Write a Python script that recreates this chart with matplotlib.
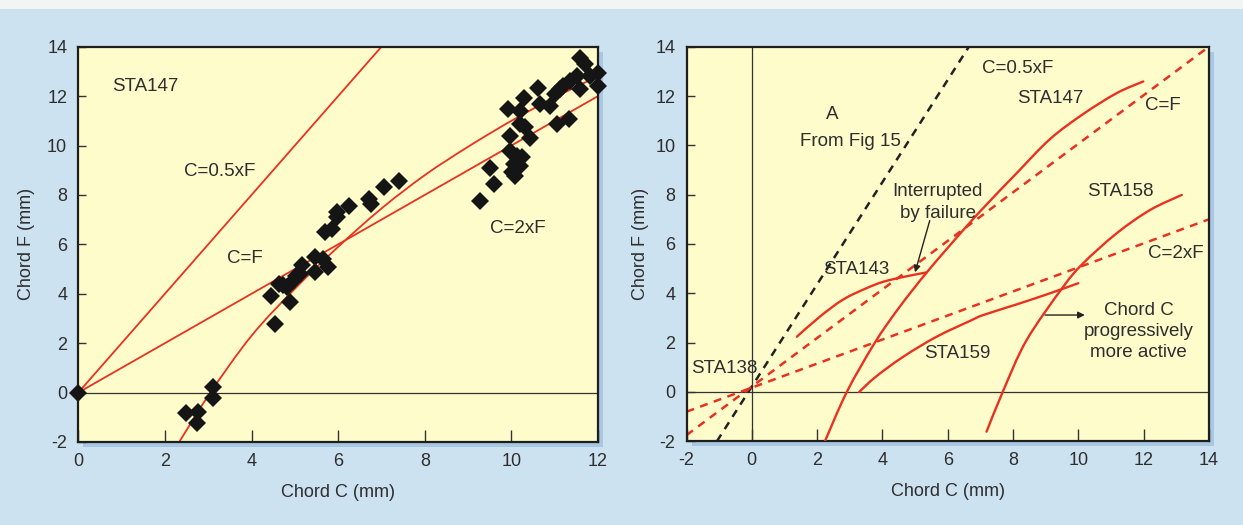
import matplotlib
matplotlib.use("Agg")
import matplotlib.pyplot as plt
from matplotlib.patches import Rectangle, PathPatch
from matplotlib.path import Path

plt.rcParams['font.family'] = ['Liberation Sans', 'DejaVu Sans']
plt.rcParams['axes.unicode_minus'] = False

# ---------------- data: left panel (STA147 measurements) ----------------
pts_c = [0.0, 2.49, 2.77, 2.73, 3.12, 3.10,
         4.54, 4.44, 4.64, 4.89, 4.81, 4.97, 5.16, 5.12, 5.47, 5.47, 5.66, 5.77,
         5.70, 5.85, 5.97, 5.97, 6.26, 6.72, 6.75, 7.07, 7.41, 4.72, 5.03,
         11.59, 11.70, 11.51, 11.36, 11.82, 12.0, 12.0, 11.59, 11.2, 11.12, 11.01,
         10.62, 10.28, 10.66, 10.89, 9.93, 10.2, 11.32, 11.05, 10.2, 10.32, 10.43,
         9.97, 9.97, 10.12, 10.24, 10.05, 10.2, 10.01, 10.09, 9.51, 9.6, 9.28]
pts_f = [0.0, -0.83, -0.77, -1.24, 0.24, -0.2,
         2.77, 3.91, 4.41, 3.67, 4.27, 4.54, 5.15, 4.81, 4.88, 5.48, 5.42, 5.08,
         6.52, 6.62, 7.30, 7.10, 7.54, 7.83, 7.63, 8.31, 8.57, 4.35, 4.70,
         13.55, 13.28, 12.81, 12.60, 12.80, 12.94, 12.40, 12.27, 12.40, 12.27, 12.07,
         12.34, 11.94, 11.67, 11.60, 11.46, 11.40, 11.06, 10.86, 10.86, 10.73, 10.32,
         10.39, 9.78, 9.58, 9.52, 9.25, 9.18, 8.91, 8.77, 9.11, 8.44, 7.77]

left_half_c = [0.0, 7.0]          # C = 0.5 x F
left_half_f = [0.0, 14.0]
left_eq_c = [0.0, 12.0]           # C = F
left_eq_f = [0.0, 12.0]
fit_c = [2.33, 3.05, 4.0, 5.0, 6.0, 7.0, 8.0, 9.0, 10.0, 11.0, 12.0]
fit_f = [-2.0, 0.0, 2.3, 4.2, 5.9, 7.45, 8.8, 9.95, 11.0, 11.95, 12.8]

# ---------------- data: right panel ----------------
half_c = [-1.07, 6.65]             # C = 0.5 x F (black dashed)
half_f = [-2.0, 14.0]
eq_c = [-2.0, 14.0]                # C = F (red dashed)
eq_f = [-1.75, 14.0]
dbl_c = [-2.0, 14.0]               # C = 2 x F (red dashed)
dbl_f = [-0.8, 7.0]

sta143_c = [1.38, 2.09, 2.8, 3.5, 4.03, 4.7, 5.36]
sta143_f = [2.24, 3.06, 3.75, 4.2, 4.47, 4.68, 4.85]
sta147_c = [2.24, 2.91, 3.77, 4.5, 5.36, 6.48, 7.19, 8.11, 9.13, 10.15, 11.18, 11.99]
sta147_f = [-2.0, 0.0, 2.0, 3.4, 4.85, 6.57, 7.6, 8.87, 10.25, 11.27, 12.12, 12.59]
sta159_c = [3.29, 3.8, 4.64, 5.66, 6.68, 7.09, 8.11, 9.13, 10.0]
sta159_f = [0.0, 0.62, 1.43, 2.24, 2.88, 3.12, 3.55, 4.0, 4.41]
sta158_c = [7.19, 7.71, 8.42, 9.54, 10.15, 11.18, 12.2, 13.17]
sta158_f = [-1.61, 0.08, 2.11, 4.27, 5.22, 6.44, 7.38, 7.99]

left_xticks = [0, 2, 4, 6, 8, 10, 12]
right_xticks = [-2, 0, 2, 4, 6, 8, 10, 12, 14]
yticks = [-2, 0, 2, 4, 6, 8, 10, 12, 14]

# ---------------- styling ----------------
BG = '#cde2f1'
FACE = '#fffccc'
RED = '#e8321f'
TXT = '#2e2e2e'
W, H = 1243, 525


def smooth_curve(ax, xs, ys, **kw):
    """Draw a smooth (Catmull-Rom style Bezier) curve through the given points."""
    P = list(zip(xs, ys))
    n = len(P)
    verts = [P[0]]
    codes = [Path.MOVETO]
    for i in range(n - 1):
        p0 = P[i - 1] if i > 0 else P[i]
        p1, p2 = P[i], P[i + 1]
        p3 = P[i + 2] if i + 2 < n else P[i + 1]
        c1 = (p1[0] + (p2[0] - p0[0]) / 6, p1[1] + (p2[1] - p0[1]) / 6)
        c2 = (p2[0] - (p3[0] - p1[0]) / 6, p2[1] - (p3[1] - p1[1]) / 6)
        verts += [c1, c2, p2]
        codes += [Path.CURVE4] * 3
    ax.add_patch(PathPatch(Path(verts, codes), fill=False, capstyle='round', **kw))


fig = plt.figure(figsize=(W / 100, H / 100), dpi=100)
fig.patch.set_facecolor(BG)
fig.patches.append(Rectangle((0, 1 - 9 / H), 1, 9 / H, transform=fig.transFigure,
                             facecolor='#f3f4f4', edgecolor='none', zorder=-5))


def px_axes(x0, x1, y0, y1):
    return [x0 / W, 1 - y1 / H, (x1 - x0) / W, (y1 - y0) / H]


posL = px_axes(78.3, 598.0, 46.7, 442.0)
posR = px_axes(686.5, 1208.9, 46.7, 441.3)

for pos in (posL, posR):
    fig.patches.append(Rectangle((pos[0] + 5 / W, pos[1] - 5 / H), pos[2], pos[3],
                                 transform=fig.transFigure, facecolor='#a9c7e0',
                                 edgecolor='none', zorder=-5))

axL = fig.add_axes(posL)
axR = fig.add_axes(posR)

for ax in (axL, axR):
    ax.set_zorder(2)
    ax.set_facecolor(FACE)
    for s in ax.spines.values():
        s.set_linewidth(1.6)
        s.set_color('#1e1e1e')
    ax.tick_params(direction='in', colors='#333333', labelcolor=TXT, labelsize=13,
                   width=1.0)
    ax.tick_params(axis='y', length=6, pad=8)
    ax.tick_params(axis='x', length=9, pad=8)
    ax.set_ylim(-2, 14)
    ax.set_yticks(yticks)
    ax.set_ylabel('Chord F (mm)', fontsize=13, color=TXT)
    ax.set_xlabel('Chord C (mm)', fontsize=13, color=TXT, labelpad=10)
    ax.axhline(0, color='#333333', lw=0.9, zorder=1)

axL.yaxis.set_label_coords(-0.083, 0.5)
axR.yaxis.set_label_coords(-0.072, 0.5)

# ---- left panel ----
axL.set_xlim(0, 12)
axL.set_xticks(left_xticks)
axL.plot(left_half_c, left_half_f, color=RED, lw=1.3, zorder=2)
axL.plot(left_eq_c, left_eq_f, color=RED, lw=1.3, zorder=2)
smooth_curve(axL, fit_c, fit_f, edgecolor=RED, lw=1.3, zorder=2)
axL.plot(pts_c, pts_f, linestyle='none', marker='D', ms=9, color='#151515',
         markeredgewidth=0, zorder=3, clip_on=False)
tk = dict(fontsize=13.5, color=TXT, ha='center', va='center')
axL.text(1.54, 12.4, 'STA147', **tk)
axL.text(3.26, 8.93, 'C=0.5xF', **tk)
axL.text(3.85, 5.41, 'C=F', **tk)
axL.text(10.15, 6.65, 'C=2xF', **tk)

# ---- right panel ----
axR.set_xlim(-2, 14)
axR.set_xticks(right_xticks)
axR.axvline(0, color='#333333', lw=0.9, zorder=1)
axR.plot(half_c, half_f, color='#222222', lw=1.8, ls=(0, (3.2, 2.6)), zorder=2)
axR.plot(eq_c, eq_f, color=RED, lw=1.8, ls=(0, (3.2, 2.6)), zorder=2)
axR.plot(dbl_c, dbl_f, color=RED, lw=1.8, ls=(0, (3.2, 2.6)), zorder=2)
for c, f in ((sta143_c, sta143_f), (sta147_c, sta147_f),
             (sta159_c, sta159_f), (sta158_c, sta158_f)):
    smooth_curve(axR, c, f, edgecolor=RED, lw=1.7, zorder=3)

axR.text(7.05, 13.1, 'C=0.5xF', fontsize=13.5, color=TXT, ha='left', va='center')
axR.text(9.13, 11.9, 'STA147', **tk)
axR.text(12.6, 11.62, 'C=F', **tk)
axR.text(11.3, 8.13, 'STA158', **tk)
axR.text(13.0, 5.63, 'C=2xF', **tk)
axR.text(11.84, 2.45, 'Chord C\nprogressively\nmore active', linespacing=1.32, **tk)
axR.text(6.3, 1.57, 'STA159', **tk)
axR.text(3.19, 4.95, 'STA143', **tk)
axR.text(-0.85, 0.96, 'STA138', **tk)
axR.text(2.45, 11.24, 'A', **tk)
axR.text(3.01, 10.15, 'From Fig 15', **tk)
axR.text(5.69, 7.68, 'Interrupted\nby failure', linespacing=1.32, **tk)
axR.annotate('', xy=(5.0, 4.85), xytext=(5.45, 6.95),
             arrowprops=dict(arrowstyle='-|>', color='#222222', lw=1.0,
                             mutation_scale=10, shrinkA=0, shrinkB=0))
axR.annotate('', xy=(10.2, 3.12), xytext=(8.98, 3.12),
             arrowprops=dict(arrowstyle='-|>', color='#222222', lw=1.0,
                             mutation_scale=10, shrinkA=0, shrinkB=0))

fig.savefig('out.png', dpi=100, facecolor=fig.get_facecolor())
